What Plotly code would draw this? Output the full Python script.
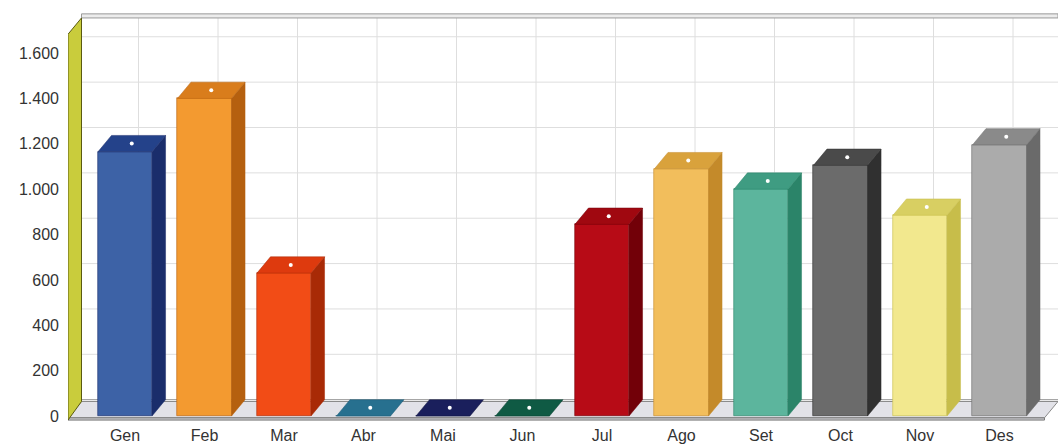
import plotly.graph_objects as go

months = ["Gen", "Feb", "Mar", "Abr", "Mai", "Jun", "Jul", "Ago", "Set", "Oct", "Nov", "Des"]
values = [1165, 1400, 630, 0, 0, 0, 845, 1090, 1000, 1105, 885, 1195]
front_colors = ["#3d62a6", "#f39a30", "#f24c16", "#2f7e9e", "#1c2160", "#126048",
                "#b70b16", "#f2be5c", "#5cb59d", "#6b6b6b", "#f2e88e", "#ababab"]
side_colors = ["#1a2d6b", "#b5600f", "#a82a06", "#1b5a75", "#10143e", "#0a4030",
               "#720008", "#c48a2a", "#2b8469", "#303030", "#c7bd4a", "#6a6a6a"]
top_colors = ["#24428a", "#d97d1c", "#de3a0e", "#27708f", "#1a1f5c", "#0f5a44",
              "#a00810", "#d9a23c", "#3f9c82", "#4a4a4a", "#d8cf62", "#8a8a8a"]
y_ticks = [0, 200, 400, 600, 800, 1000, 1200, 1400, 1600]
y_ticktext = ["0", "200", "400", "600", "800", "1.000", "1.200", "1.400", "1.600"]

# 3D geometry (in data units)
W = 0.68      # bar front width
DX = 0.17     # depth offset x
DY = 72       # depth offset y
XL = -0.717   # left wall front x
XR = 11.566   # floor front right x
WALL_TOP = 1683
X_RANGE = [XL, XL + 12.453]
Y_RANGE = [-22, 1790]

fig = go.Figure()
shapes = []

def poly(pts):
    return "M " + " L ".join(f"{x},{y}" for x, y in pts) + " Z"

# back wall
shapes.append(dict(type="path", layer="below", xref="x", yref="y",
                   path=poly([(XL + DX, DY), (X_RANGE[1], DY), (X_RANGE[1], WALL_TOP + DY), (XL + DX, WALL_TOP + DY)]),
                   fillcolor="white", line=dict(width=0)))
# horizontal grid lines on back wall
for t in y_ticks:
    shapes.append(dict(type="line", layer="below", xref="x", yref="y",
                       x0=XL + DX, x1=X_RANGE[1], y0=t + DY, y1=t + DY,
                       line=dict(color="#dedede", width=1)))
# vertical grid lines on back wall
for i in range(len(months)):
    shapes.append(dict(type="line", layer="below", xref="x", yref="y",
                       x0=i + DX, x1=i + DX, y0=DY, y1=WALL_TOP + DY,
                       line=dict(color="#dedede", width=1)))
# back wall top frame
shapes.append(dict(type="path", layer="below", xref="x", yref="y",
                   path=poly([(XL + DX, WALL_TOP + DY), (X_RANGE[1], WALL_TOP + DY),
                              (X_RANGE[1], WALL_TOP + DY + 18), (XL + DX, WALL_TOP + DY + 18)]),
                   fillcolor="#ececec", line=dict(color="#9a9a9a", width=1)))
# floor
shapes.append(dict(type="path", layer="below", xref="x", yref="y",
                   path=poly([(XL, -8), (XR, -8), (XR + DX, DY - 8), (XL + DX, DY - 8)]),
                   fillcolor="#e2e2e8", line=dict(color="#8a8a8a", width=1)))
shapes.append(dict(type="path", layer="below", xref="x", yref="y",
                   path=poly([(XL, -8), (XR, -8), (XR, -18), (XL, -18)]),
                   fillcolor="#c8c8cc", line=dict(color="#7a7a7a", width=1)))
shapes.append(dict(type="line", layer="below", xref="x", yref="y",
                   x0=XL + DX, x1=X_RANGE[1], y0=DY, y1=DY,
                   line=dict(color="#9a9a9a", width=1)))
# left wall
shapes.append(dict(type="path", layer="below", xref="x", yref="y",
                   path=poly([(XL, -18), (XL, WALL_TOP), (XL + DX, WALL_TOP + DY), (XL + DX, DY - 8)]),
                   fillcolor="#c9cc3c", line=dict(color="#5a5a10", width=1)))

# front faces
fig.add_trace(go.Bar(x=list(range(len(months))), y=values, width=W,
                     marker=dict(color=front_colors, line=dict(color=side_colors, width=0.6)),
                     hoverinfo="skip", showlegend=False))

# side and top faces
for i, v in enumerate(values):
    xs = [i + W / 2, i + W / 2 + DX, i + W / 2 + DX, i + W / 2, i + W / 2]
    ys = [0, DY, v + DY, v, 0]
    if v > 0:
        fig.add_trace(go.Scatter(x=xs, y=ys, fill="toself", mode="lines",
                                 fillcolor=side_colors[i], line=dict(color=side_colors[i], width=0.5),
                                 hoverinfo="skip", showlegend=False))
    xt = [i - W / 2, i + W / 2, i + W / 2 + DX, i - W / 2 + DX, i - W / 2]
    yt = [v, v, v + DY, v + DY, v]
    fig.add_trace(go.Scatter(x=xt, y=yt, fill="toself", mode="lines",
                             fillcolor=top_colors[i], line=dict(color=side_colors[i], width=0.5),
                             hoverinfo="skip", showlegend=False))

# small white markers on top faces
fig.add_trace(go.Scatter(x=[i + DX / 2 for i in range(len(months))],
                         y=[v + DY / 2 for v in values], mode="markers",
                         marker=dict(color="white", size=4, line=dict(width=0)),
                         hoverinfo="skip", showlegend=False))

fig.update_layout(
    width=1060, height=444,
    margin=dict(l=68, r=2, t=10, b=23),
    paper_bgcolor="white", plot_bgcolor="white",
    shapes=shapes,
    font=dict(family="Liberation Sans, Arial, sans-serif", size=16, color="#333333"),
    xaxis=dict(range=X_RANGE, tickvals=list(range(len(months))), ticktext=months,
               showgrid=False, zeroline=False, showline=False, ticks="",
               automargin=False,
               ticklabelstandoff=3, tickfont=dict(size=16, color="#333333")),
    yaxis=dict(range=Y_RANGE, tickvals=y_ticks, ticktext=y_ticktext,
               showgrid=False, zeroline=False, showline=False, ticks="",
               automargin=False,
               ticklabelstandoff=8, tickfont=dict(size=16, color="#333333")),
    bargap=0,
)

fig.write_html("out.html", config={"displayModeBar": False},
               post_script="document.body.style.margin='0';document.body.style.overflow='hidden';")
